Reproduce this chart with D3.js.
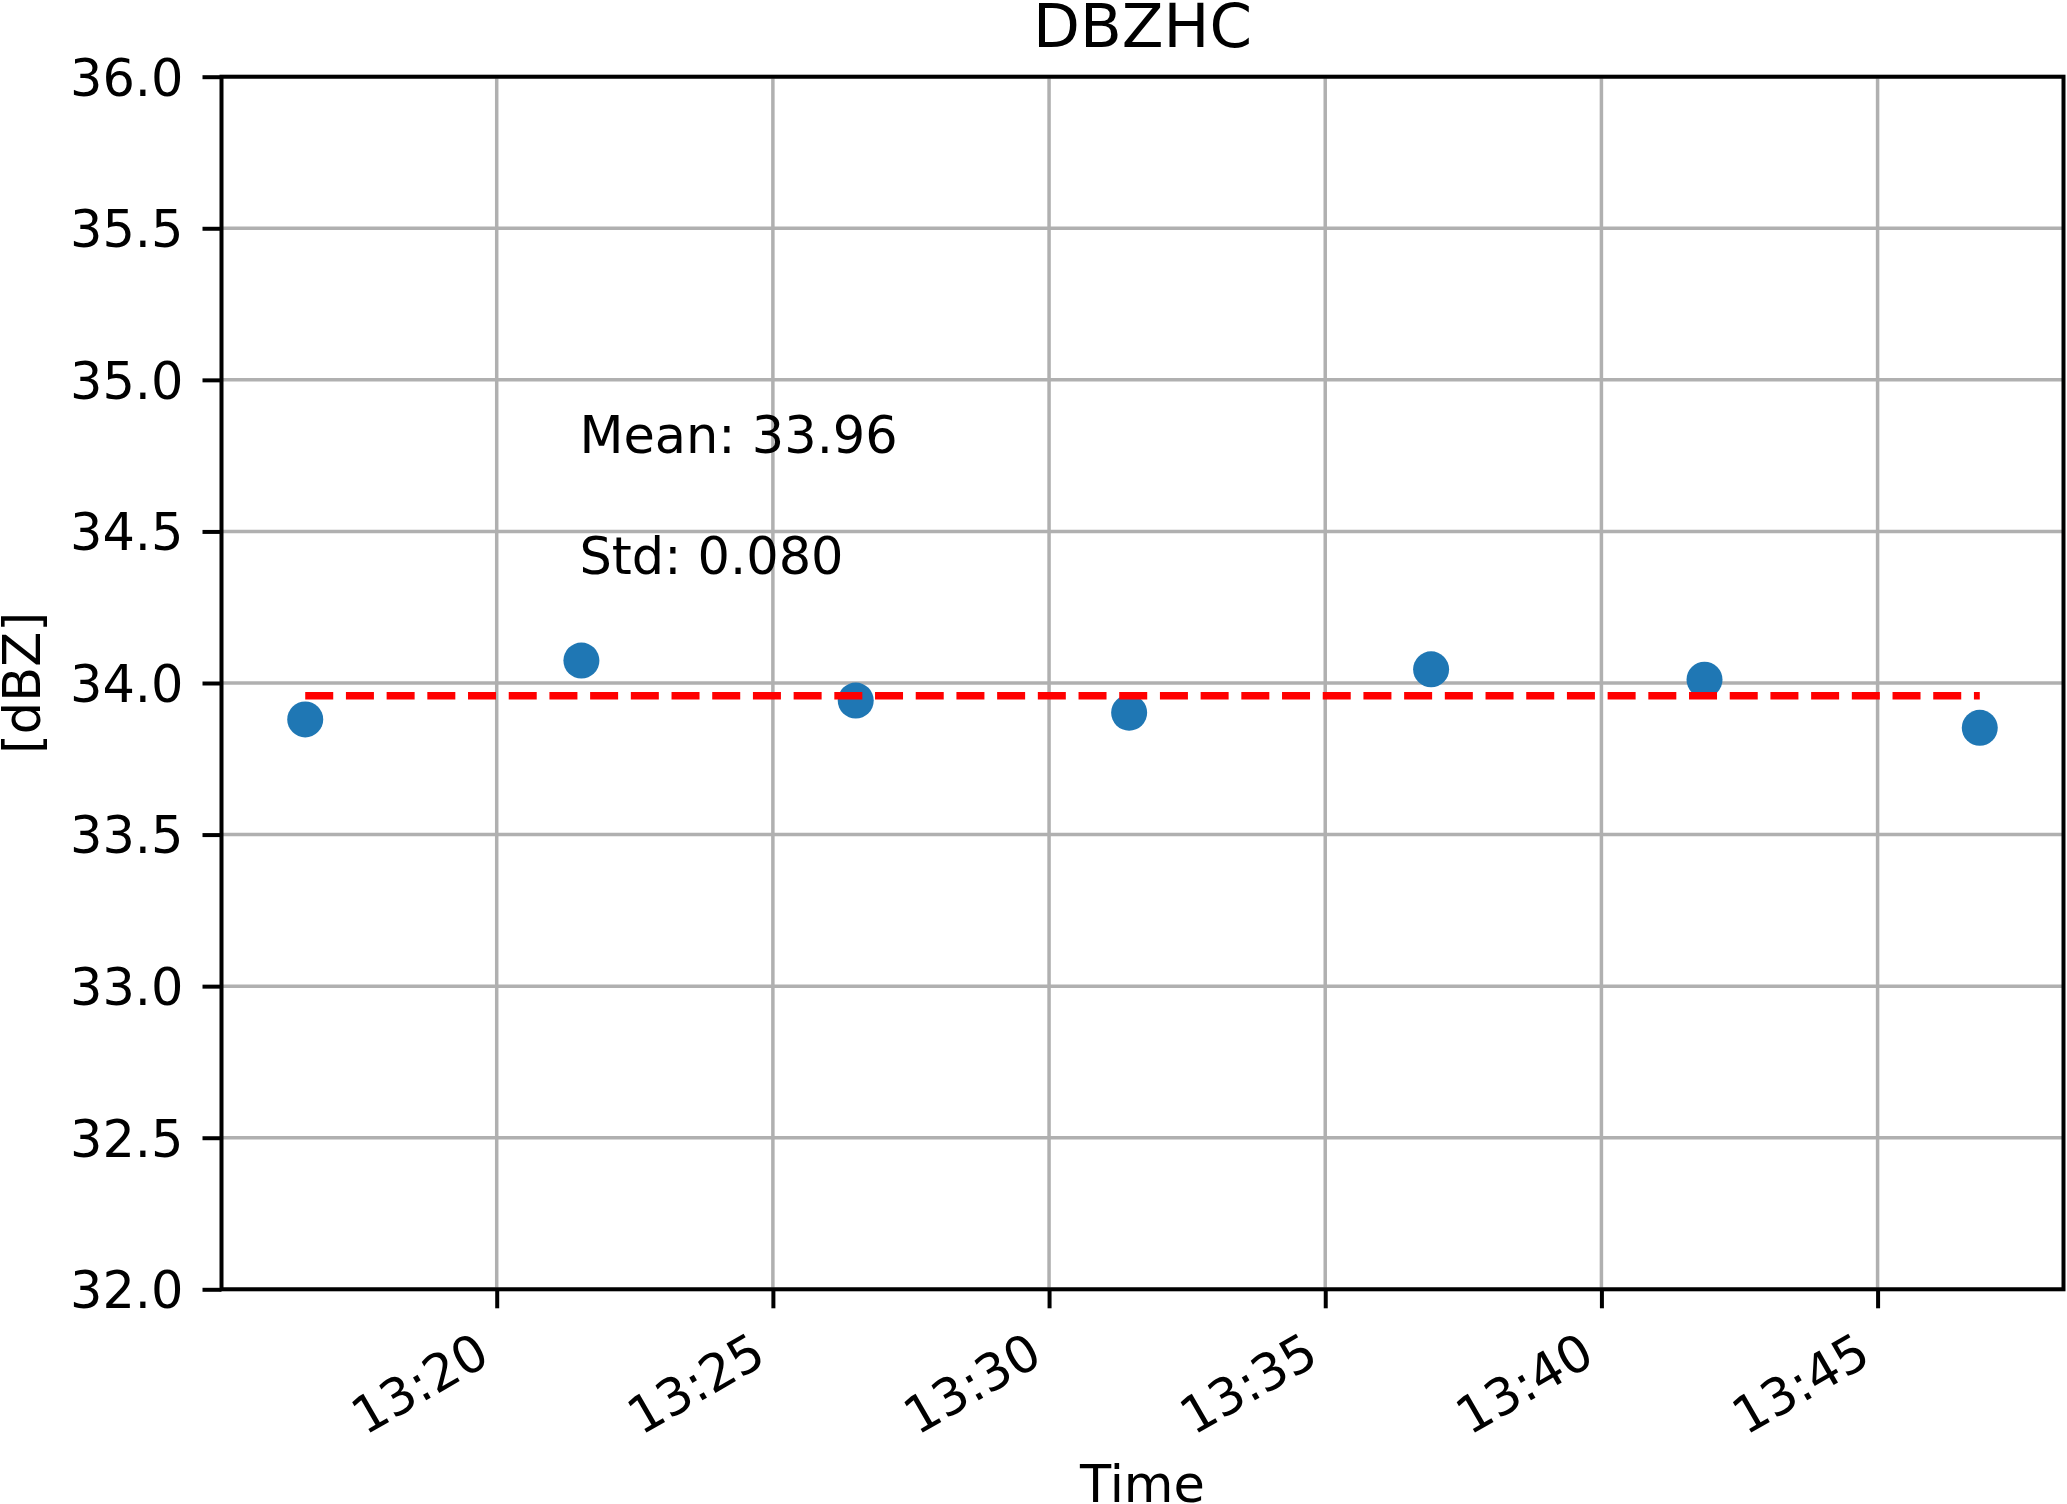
<!DOCTYPE html>
<html>
<head>
<meta charset="utf-8">
<script src="https://cdn.jsdelivr.net/npm/d3@7"></script>
<style>
  body { margin: 0; background: #fff; }
  svg { display: block; }
  text { font-family: "DejaVu Sans", sans-serif; fill: #000; }
</style>
</head>
<body>
<svg id="chart" width="2067" height="1504"></svg>
<script>
// data
var times = ["13:16:32", "13:21:32", "13:26:30", "13:31:27", "13:36:55", "13:41:52", "13:46:51"];
var values = [33.88, 34.074, 33.942, 33.902, 34.045, 34.011, 33.852];
var yTicks = [32.0, 32.5, 33.0, 33.5, 34.0, 34.5, 35.0, 35.5, 36.0];
var yDomain = [32, 36];
var title = "DBZHC";
var xLabel = "Time";
var yLabel = "[dBZ]";

var parseTime = d3.timeParse("%H:%M:%S");
var data = times.map(function (t, i) { return { date: parseTime(t), value: values[i] }; });

var meanVal = d3.mean(values);
var stdVal = d3.deviation(values) * Math.sqrt((values.length - 1) / values.length);

var margin = { top: 76.7, right: 3.5, bottom: 214.7, left: 221.5 },
    width = 2067 - margin.left - margin.right,
    height = 1504 - margin.top - margin.bottom;

var svg = d3.select("#chart")
    .append("g")
    .attr("transform", "translate(" + margin.left + "," + margin.top + ")");

// matplotlib style 5% margins on x
var ext = d3.extent(data, function (d) { return d.date; });
var pad = (ext[1] - ext[0]) * 0.05;
var xScale = d3.scaleTime()
    .domain([new Date(+ext[0] - pad), new Date(+ext[1] + pad)])
    .range([0, width]);

var yScale = d3.scaleLinear()
    .domain(yDomain)
    .range([height, 0]);

var xTickVals = d3.timeMinute.every(5).range(xScale.domain()[0], xScale.domain()[1]);

// grid
svg.append("g")
    .selectAll("line.vg")
    .data(xTickVals)
    .enter().append("line")
    .attr("x1", function (d) { return xScale(d); })
    .attr("x2", function (d) { return xScale(d); })
    .attr("y1", 0).attr("y2", height)
    .style("stroke", "#b0b0b0").style("stroke-width", 3.5);

svg.append("g")
    .selectAll("line.hg")
    .data(yTicks)
    .enter().append("line")
    .attr("x1", 0).attr("x2", width)
    .attr("y1", function (d) { return yScale(d); })
    .attr("y2", function (d) { return yScale(d); })
    .style("stroke", "#b0b0b0").style("stroke-width", 3.5);

// points
svg.append("g")
    .selectAll("circle")
    .data(data)
    .enter().append("circle")
    .attr("cx", function (d) { return xScale(d.date); })
    .attr("cy", function (d) { return yScale(d.value); })
    .attr("r", 18)
    .style("fill", "#1f77b4");

// mean line
svg.append("line")
    .attr("x1", xScale(ext[0]))
    .attr("x2", xScale(ext[1]))
    .attr("y1", yScale(meanVal))
    .attr("y2", yScale(meanVal))
    .style("stroke", "#ff0000")
    .style("stroke-width", 7.3)
    .style("stroke-dasharray", "28,12.7");

// annotations
svg.append("text")
    .attr("x", xScale(data[1].date) - 2)
    .attr("y", yScale(meanVal + 0.8))
    .style("font-size", "51px")
    .text("Mean: " + meanVal.toFixed(2));

svg.append("text")
    .attr("x", xScale(data[1].date) - 2)
    .attr("y", yScale(meanVal + 0.4))
    .style("font-size", "51px")
    .text("Std: " + stdVal.toFixed(3));

// axes
var xAxis = d3.axisBottom(xScale)
    .tickValues(xTickVals)
    .tickFormat(d3.timeFormat("%H:%M"))
    .tickSize(19)
    .tickSizeOuter(0);

var gx = svg.append("g")
    .attr("transform", "translate(0," + height + ")")
    .call(xAxis);
gx.select(".domain").remove();
gx.selectAll(".tick line").style("stroke", "#000").style("stroke-width", 4);
gx.selectAll(".tick text")
    .attr("x", null).attr("y", null).attr("dy", null)
    .attr("transform", "translate(-5,73) rotate(-30)")
    .style("text-anchor", "end")
    .style("font-size", "51px")
    .style("font-family", "DejaVu Sans");

var yAxis = d3.axisLeft(yScale)
    .tickValues(yTicks)
    .tickFormat(d3.format(".1f"))
    .tickSize(19)
    .tickPadding(19)
    .tickSizeOuter(0);

var gy = svg.append("g").call(yAxis);
gy.select(".domain").remove();
gy.selectAll(".tick line").style("stroke", "#000").style("stroke-width", 4);
gy.selectAll(".tick text")
    .attr("dy", "0.36em")
    .style("font-size", "51px")
    .style("font-family", "DejaVu Sans");

// spines
svg.append("rect")
    .attr("x", 0).attr("y", 0)
    .attr("width", width).attr("height", height)
    .style("fill", "none")
    .style("stroke", "#000")
    .style("stroke-width", 4);

// labels
svg.append("text")
    .attr("x", width / 2)
    .attr("y", 46.7 - margin.top)
    .attr("text-anchor", "middle")
    .style("font-size", "61px")
    .text(title);

svg.append("text")
    .attr("x", width / 2)
    .attr("y", 1502 - margin.top)
    .attr("text-anchor", "middle")
    .style("font-size", "51px")
    .text(xLabel);

svg.append("text")
    .attr("transform", "translate(" + (40 - margin.left) + "," + (height / 2) + ") rotate(-90)")
    .attr("text-anchor", "middle")
    .style("font-size", "51px")
    .text(yLabel);
</script>
</body>
</html>
